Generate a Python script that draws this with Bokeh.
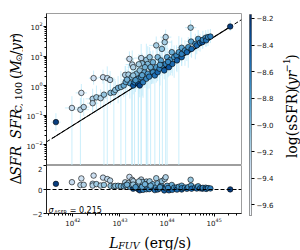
import os
import struct
import numpy as np
from bokeh.plotting import figure
from bokeh.layouts import row, column
from bokeh.models import (ColumnDataSource, LinearColorMapper, FixedTicker,
                          Range1d, CustomJSTickFormatter, Span)
from bokeh.core.properties import value
from bokeh.palettes import Blues256
from bokeh.transform import transform
from bokeh.embed import file_html
from bokeh.resources import INLINE

# ---------------- data ----------------
log_lfuv = [
    41.64, 41.98, 42.18, 42.16, 42.23, 42.44, 42.42, 42.42, 42.50, 42.59,
    42.66, 42.64, 42.73, 42.79, 42.80, 42.87, 42.90, 42.96, 43.02, 43.08,
    43.11, 43.18, 43.20, 43.26, 43.28, 43.45, 43.21, 43.25, 43.28, 43.31,
    43.39, 43.42, 43.35, 43.28, 43.39, 43.42, 43.45, 43.49, 43.52, 43.56,
    43.56, 43.47, 43.59, 43.59, 43.63, 43.67, 43.70, 43.70, 43.74, 43.77,
    43.77, 43.80, 43.80, 43.84, 43.87, 43.89, 43.90, 43.94, 43.95, 43.97,
    43.97, 44.00, 44.04, 44.07, 44.10, 44.11, 44.15, 44.20, 44.21, 44.25,
    44.31, 44.31, 44.31, 44.38, 44.42, 44.45, 44.50, 44.51, 44.52, 44.60,
    44.63, 44.66, 44.70, 44.75, 44.76, 44.82, 44.83, 44.87, 44.92, 45.34,
    43.12, 43.15, 43.33, 43.47, 43.62, 43.65, 43.85, 44.02, 43.53, 43.40,
]
log_sfr = [
    -1.24, -0.76, -0.25, -0.82, -0.73, 0.25, -0.45, -0.60, -0.40, -0.43,
    -0.31, 0.28, 0.25, 0.19, -0.25, -0.23, -0.15, -0.08, -0.05, 0.00,
    0.36, 0.37, 0.90, 0.71, 0.62, 0.93, 0.08, 0.28, 0.00, 0.11,
    0.06, 0.00, 0.40, 0.34, 0.23, 0.51, 0.28, 0.11, 0.45, 0.23,
    0.87, 0.75, 0.73, 0.40, 0.96, 0.57, 0.79, 0.45, 0.34, 0.62,
    1.36, 0.96, 0.45, 0.57, 0.85, 1.24, 0.68, 0.51, 1.47, 1.64,
    0.73, 0.96, 0.62, 0.87, 1.13, 0.73, 0.96, 1.02, 0.85, 1.13,
    1.28, 0.96, 1.07, 1.19, 1.13, 1.30, 1.96, 1.49, 1.24, 1.41,
    1.36, 1.58, 1.45, 1.47, 1.55, 1.62, 1.53, 1.64, 1.66, 2.00,
    0.12, 0.20, 0.18, 0.35, 0.30, 0.62, 0.70, 0.80, 0.62, 0.72,
]
log_ssfr = [
    -8.25, -9.30, -9.38, -9.25, -9.22, -9.35, -9.18, -9.22, -9.12, -9.18,
    -9.08, -9.30, -9.25, -9.25, -9.05, -9.00, -9.05, -8.95, -9.00, -8.90,
    -9.20, -9.15, -9.30, -9.25, -9.20, -9.25, -8.80, -9.00, -8.40, -8.60,
    -8.35, -8.30, -9.00, -9.08, -8.80, -9.05, -8.75, -8.60, -8.90, -8.70,
    -9.08, -9.02, -9.00, -8.78, -9.08, -8.88, -8.95, -8.70, -8.55, -8.80,
    -9.15, -9.00, -8.50, -8.65, -8.85, -9.05, -8.70, -8.45, -9.15, -9.20,
    -8.65, -8.85, -8.40, -8.75, -8.92, -8.52, -8.75, -8.70, -8.48, -8.80,
    -8.88, -8.48, -8.62, -8.72, -8.50, -8.75, -9.10, -8.85, -8.50, -8.72,
    -8.50, -8.80, -8.58, -8.40, -8.68, -8.72, -8.55, -8.68, -8.62, -8.25,
    -8.88, -8.95, -8.78, -8.85, -8.62, -8.92, -8.80, -8.68, -8.95, -9.15,
]
# relative SFR errors (lower >= 1 reaches zero), and L_FUV errors in dex
sfr_err_lo_frac = [
    0.5, 1.2, 0.6, 1.1, 0.5, 0.4, 0.6, 0.5, 0.7, 0.5,
    1.3, 0.4, 1.2, 0.5, 0.6, 1.1, 0.5, 0.7, 1.4, 0.6,
    0.5, 0.6, 0.5, 1.2, 0.6, 1.3, 0.7, 1.1, 0.5, 1.2,
    1.1, 0.6, 0.7, 0.5, 1.3, 0.6, 1.2, 0.7, 0.6, 1.1,
    1.2, 0.6, 1.3, 0.7, 0.6, 0.7, 0.8, 0.6, 1.2, 0.7,
    0.6, 0.8, 0.5, 1.1, 0.7, 0.8, 1.2, 0.5, 0.7, 0.6,
    1.3, 1.1, 0.5, 0.7, 0.8, 0.6, 0.8, 0.7, 0.6, 1.2,
    0.7, 0.5, 0.6, 0.7, 0.5, 0.8, 0.6, 0.7, 0.5, 0.7,
    0.5, 0.6, 0.5, 0.4, 0.5, 0.5, 0.4, 0.5, 0.4, 0.3,
    1.2, 0.7, 0.6, 0.8, 0.6, 1.1, 0.8, 0.7, 0.8, 0.9,
]
sfr_err_hi_frac = [
    1.0, 1.5, 1.0, 1.5, 1.0, 0.8, 1.2, 1.0, 1.5, 1.0,
    2.0, 0.8, 1.5, 1.0, 1.2, 2.0, 1.0, 1.5, 2.5, 1.2,
    1.0, 1.2, 0.8, 2.0, 1.0, 2.0, 1.5, 2.0, 1.0, 2.5,
    2.0, 1.2, 1.5, 1.0, 3.0, 1.2, 2.5, 1.5, 1.2, 3.0,
    2.5, 1.2, 3.0, 1.5, 1.2, 1.5, 1.5, 1.2, 2.5, 1.5,
    1.0, 1.5, 1.0, 3.0, 1.5, 1.5, 3.0, 1.0, 1.0, 0.8,
    3.0, 2.5, 1.0, 1.5, 1.5, 1.0, 1.5, 1.2, 1.0, 2.5,
    1.2, 1.0, 1.0, 1.2, 1.0, 1.2, 0.8, 1.2, 1.0, 1.2,
    1.0, 1.0, 1.0, 0.8, 1.0, 0.8, 0.8, 0.8, 0.8, 0.6,
    2.5, 1.2, 1.5, 1.5, 1.2, 2.5, 1.5, 1.2, 1.5, 1.2,
]
lfuv_err_dex = [
    0.10, 0.15, 0.12, 0.18, 0.12, 0.10, 0.15, 0.12, 0.10, 0.14,
    0.12, 0.10, 0.15, 0.12, 0.10, 0.12, 0.14, 0.10, 0.12, 0.15,
    0.10, 0.12, 0.10, 0.14, 0.12, 0.15, 0.10, 0.12, 0.08, 0.10,
    0.08, 0.10, 0.12, 0.14, 0.10, 0.12, 0.10, 0.08, 0.12, 0.10,
    0.14, 0.12, 0.10, 0.12, 0.15, 0.10, 0.12, 0.10, 0.08, 0.12,
    0.15, 0.12, 0.08, 0.10, 0.12, 0.14, 0.10, 0.08, 0.15, 0.12,
    0.10, 0.12, 0.08, 0.10, 0.12, 0.08, 0.10, 0.12, 0.08, 0.10,
    0.12, 0.08, 0.10, 0.10, 0.08, 0.10, 0.12, 0.10, 0.08, 0.10,
    0.08, 0.10, 0.08, 0.06, 0.08, 0.08, 0.06, 0.08, 0.06, 0.05,
    0.10, 0.12, 0.10, 0.12, 0.10, 0.12, 0.10, 0.10, 0.12, 0.14,
]

LOG_SFR_PER_LFUV = -43.35          # log10(SFR / L_FUV) of the reference relation
sigma_dsfr_text = "0.215"
x_lims = (10 ** 41.44, 10 ** 45.58)
y_lims = (10 ** -2.71, 10 ** 2.44)
dy_lims = (-2.0, 2.0)
x_ticks = [1e42, 1e43, 1e44, 1e45]
y_ticks = [1e-2, 1e-1, 1e0, 1e1, 1e2]
dy_ticks = [-2, 0, 2]
cbar_low, cbar_high = -9.68, -8.17
cbar_ticks = [-9.6, -9.4, -9.2, -9.0, -8.8, -8.6, -8.4, -8.2]

# ---------------- text measuring (reads advance widths from the font files) -------
_FONT_FILES = {
    ("DejaVu Serif", "normal"): "DejaVuSerif.ttf",
    ("DejaVu Serif", "italic"): "DejaVuSerif-Italic.ttf",
    ("DejaVu Sans", "normal"): "DejaVuSans.ttf",
    ("DejaVu Sans", "italic"): "DejaVuSans-Oblique.ttf",
}
_file_index = None


def _find_font(name):
    global _file_index
    if _file_index is None:
        _file_index = {}
        for root in ("/usr/share/fonts", "/usr/local/share/fonts",
                     os.path.expanduser("~/.fonts"), os.path.expanduser("~/.local/share/fonts")):
            for dp, _, fns in os.walk(root):
                for fn in fns:
                    _file_index.setdefault(fn, os.path.join(dp, fn))
    return _file_index.get(name)


class _TTF:
    def __init__(self, path):
        d = open(path, "rb").read()
        n = struct.unpack(">H", d[4:6])[0]
        t = {}
        for i in range(n):
            tag, _, off, ln = struct.unpack(">4sIII", d[12 + 16 * i: 28 + 16 * i])
            t[tag.decode("latin1")] = off
        self.upem = struct.unpack(">H", d[t["head"] + 18: t["head"] + 20])[0]
        nhm = struct.unpack(">H", d[t["hhea"] + 34: t["hhea"] + 36])[0]
        o = t["hmtx"]
        self.adv = [struct.unpack(">H", d[o + 4 * i: o + 4 * i + 2])[0] for i in range(nhm)]
        o = t["cmap"]
        nsub = struct.unpack(">H", d[o + 2: o + 4])[0]
        sub = None
        for i in range(nsub):
            pid, eid, so = struct.unpack(">HHI", d[o + 4 + 8 * i: o + 12 + 8 * i])
            if struct.unpack(">H", d[o + so: o + so + 2])[0] == 4 and pid in (0, 3):
                sub = o + so
                break
        segx2 = struct.unpack(">H", d[sub + 6: sub + 8])[0]
        seg = segx2 // 2
        self.ends = struct.unpack(f">{seg}H", d[sub + 14: sub + 14 + segx2])
        self.starts = struct.unpack(f">{seg}H", d[sub + 16 + segx2: sub + 16 + 2 * segx2])
        self.deltas = struct.unpack(f">{seg}h", d[sub + 16 + 2 * segx2: sub + 16 + 3 * segx2])
        self.ro_off = sub + 16 + 3 * segx2
        self.ros = struct.unpack(f">{seg}H", d[self.ro_off: self.ro_off + segx2])
        self.d = d

    def gid(self, ch):
        c = ord(ch)
        for i, e in enumerate(self.ends):
            if e >= c:
                if self.starts[i] > c:
                    return 0
                if self.ros[i] == 0:
                    return (c + self.deltas[i]) & 0xFFFF
                a = self.ro_off + 2 * i + self.ros[i] + 2 * (c - self.starts[i])
                g = struct.unpack(">H", self.d[a: a + 2])[0]
                return (g + self.deltas[i]) & 0xFFFF if g else 0
        return 0

    def width(self, s, size):
        return sum(self.adv[min(self.gid(ch), len(self.adv) - 1)] for ch in s) * size / self.upem


_fonts = {}


def text_width(text, size, font, style):
    key = (font, style)
    if key not in _fonts:
        try:
            p = _find_font(_FONT_FILES.get(key, ""))
            _fonts[key] = _TTF(p) if p else None
        except Exception:
            _fonts[key] = None
    f = _fonts[key]
    w = 0.62 * size * len(text) if f is None else f.width(text, size)
    return w * 1.03 + 0.4 * len(text)      # allowance for hinting at small sizes


SERIF, SANS = "DejaVu Serif", "DejaVu Sans"
PI2 = np.pi / 2


def compose(fig, pieces, cx, cy, rotated=False, centered=True, to_xy=None):
    """pieces: (text, size, style, font, perpendicular shift (+ = down), gap before)."""
    widths = [text_width(t, sz, fn, st) for (t, sz, st, fn, sh, gap) in pieces]
    total = sum(w + p[5] for w, p in zip(widths, pieces))
    s = -total / 2 if centered else 0.0
    for w, (t, sz, st, fn, sh, gap) in zip(widths, pieces):
        s += gap
        x, y = (cx + sh, cy + s) if rotated else (cx + s, cy - sh)
        if to_xy is not None:
            x, y = to_xy(x, y)
        fig.text(x=[x], y=[y], text=[t], angle=PI2 if rotated else 0.0,
                 text_font=value(fn), text_font_size=value(f"{sz}px"),
                 text_font_style=st, text_align="left", text_baseline="alphabetic",
                 text_color="black")
        s += w


# ---------------- derived columns ----------------
lx = np.array(log_lfuv)
ly = np.array(log_sfr)
lo = np.array(sfr_err_lo_frac)
hi = np.array(sfr_err_hi_frac)
xe = np.array(lfuv_err_dex)
sfr = 10 ** ly
src = ColumnDataSource(dict(
    L=10 ** lx, sfr=sfr, ssfr=log_ssfr,
    dsfr=ly - (lx + LOG_SFR_PER_LFUV),
    y_lo=np.where(lo >= 1, 1e-6, sfr * np.clip(1 - lo, 1e-6, None)),
    y_hi=sfr * (1 + hi),
    x_lo=10 ** (lx - xe), x_hi=10 ** (lx + xe),
))


def lum(h):
    return int(h[1:3], 16) + int(h[3:5], 16) + int(h[5:7], 16)


pal = list(Blues256)
if lum(pal[0]) < lum(pal[-1]):
    pal = pal[::-1]
mapper = LinearColorMapper(palette=pal, low=cbar_low, high=cbar_high)


def log_minor(k0, k1):
    return [m * 10.0 ** k for k in range(k0, k1) for m in range(2, 10)]


def style_axis(ax, standoff=2):
    ax.axis_line_color = "black"
    ax.axis_line_width = 0.8
    ax.major_tick_line_color = "black"
    ax.minor_tick_line_color = "black"
    ax.major_tick_out = 3
    ax.major_tick_in = 0
    ax.minor_tick_out = 2
    ax.minor_tick_in = 0
    ax.major_label_text_font = "DejaVu Sans"
    ax.major_label_text_font_size = "7px"
    ax.major_label_text_color = "#111111"
    ax.major_label_standoff = standoff


def strip(w, h):
    f = figure(width=w, height=h, x_range=Range1d(0, w), y_range=Range1d(0, h),
               output_backend="svg", toolbar_location=None, min_border=0)
    f.axis.visible = False
    f.grid.visible = False
    f.outline_line_color = None
    return f


ERR_COLOR = "#c2ebfa"
H = 250
FRAME_W, BOT_H = 200, 50

# ---------------- top panel ----------------
top = figure(width=226, height=165, x_axis_type="log", y_axis_type="log",
             x_range=Range1d(*x_lims), y_range=Range1d(*y_lims),
             output_backend="svg", toolbar_location=None,
             min_border_left=18, min_border_right=8, min_border_top=13, min_border_bottom=0)
top.xaxis.visible = False
top.grid.visible = False
top.outline_line_color = "#9e9e9e"
top.outline_line_width = 1
top.yaxis.ticker = FixedTicker(ticks=y_ticks, minor_ticks=log_minor(-3, 3))
style_axis(top.yaxis[0], standoff=1)

top.segment(x0="L", y0="y_lo", x1="L", y1="y_hi", source=src,
            line_color=ERR_COLOR, line_width=1, line_alpha=0.85)
top.segment(x0="x_lo", y0="sfr", x1="x_hi", y1="sfr", source=src,
            line_color=ERR_COLOR, line_width=1, line_alpha=0.85)

xl = np.log10(np.array(x_lims))
top.line(x=list(10 ** xl), y=list(10 ** (xl + LOG_SFR_PER_LFUV)),
         line_color="black", line_width=1, line_dash="4 2")
xd = np.array([lx.min() - 0.08, lx.max() + 0.02])
top.line(x=list(10 ** xd), y=list(10 ** (xd + LOG_SFR_PER_LFUV)),
         line_color="black", line_width=1.1)

top.scatter("L", "sfr", source=src, size=5.5, fill_color=transform("ssfr", mapper),
            line_color="black", line_width=0.6)

# ---------------- bottom panel ----------------
bot = figure(width=226, height=63, x_axis_type="log",
             x_range=top.x_range, y_range=Range1d(*dy_lims),
             output_backend="svg", toolbar_location=None,
             min_border_left=18, min_border_right=8, min_border_top=0, min_border_bottom=13)
bot.grid.visible = False
bot.outline_line_color = "#9e9e9e"
bot.outline_line_width = 1
bot.xaxis.ticker = FixedTicker(ticks=x_ticks, minor_ticks=log_minor(41, 46))
bot.yaxis.ticker = FixedTicker(ticks=dy_ticks, minor_ticks=[])
bot.yaxis.formatter = CustomJSTickFormatter(
    code="return (tick < 0 ? '\\u2212' : '') + Math.abs(tick).toFixed(0);")
style_axis(bot.xaxis[0], standoff=1)
style_axis(bot.yaxis[0], standoff=1)
bot.add_layout(Span(location=0, dimension="width", line_color="black",
                    line_width=1, line_dash="4 2"))
bot.scatter("L", "dsfr", source=src, size=5.5, fill_color=transform("ssfr", mapper),
            line_color="black", line_width=0.6)

_ppd = FRAME_W / (xl[1] - xl[0])          # pixels per decade of the x axis


def bot_xy(px, py):
    return (x_lims[0] * 10 ** (px / _ppd),
            dy_lims[0] + py * (dy_lims[1] - dy_lims[0]) / BOT_H)


compose(bot, [("\u03c3", 8, "italic", SANS, 0, 0),
              ("\u0394SFR", 5, "normal", SANS, 1.5, 0.2),
              ("= " + sigma_dsfr_text, 8, "normal", SANS, 0, 1.0)],
        2, 3, centered=False, to_xy=bot_xy)

# ---------------- x-axis label strip (page y 228..250, x 23..249) ----------------
xstrip = strip(226, 22)
compose(xstrip, [("L", 14, "italic", SERIF, 0, 0),
                 ("FUV", 9.5, "italic", SERIF, 2.5, 0.5),
                 ("(erg/s)", 14, "normal", SERIF, 0, 7)],
        141.5 - 23, 8)

# ---------------- y-axis label strip (page x 0..23) ----------------
ystrip = strip(23, H)
compose(ystrip, [("SFR", 14, "italic", SERIF, 0, 0),
                 ("C", 9.5, "italic", SERIF, 2.8, 0.5),
                 (", 100", 9.5, "normal", SERIF, 2.8, 0),
                 ("(", 14, "normal", SERIF, 0, 7),
                 ("M", 14, "italic", SERIF, 0, 0),
                 ("\u2299", 8.5, "normal", SANS, 2.8, 0.3),
                 ("/", 14, "normal", SERIF, 0, 0.3),
                 ("yr", 14, "italic", SERIF, 0, 0),
                 (")", 14, "normal", SERIF, 0, 0)],
        15.5, H - 89, rotated=True)
compose(ystrip, [("\u0394", 14, "normal", SERIF, 0, 0),
                 ("SFR", 14, "italic", SERIF, 0, 0)],
        15.5, H - 190, rotated=True)

# ---------------- colour bar (page x 249..276) ----------------
cb = figure(width=27, height=H, x_range=Range1d(0, 1),
            y_range=Range1d(cbar_low, cbar_high), y_axis_location="right",
            output_backend="svg", toolbar_location=None,
            min_border_left=0, min_border_right=21, min_border_top=14, min_border_bottom=35)
cb.xaxis.visible = False
cb.grid.visible = False
cb.outline_line_color = "#555555"
cb.outline_line_width = 0.8
grad = np.linspace(cbar_low, cbar_high, 256).reshape(256, 1)
cb.image(image=[grad], x=0, y=cbar_low, dw=1, dh=cbar_high - cbar_low,
         color_mapper=mapper)
cb.yaxis.ticker = FixedTicker(ticks=cbar_ticks, minor_ticks=[])
cb.yaxis.formatter = CustomJSTickFormatter(
    code="return (tick < 0 ? '\\u2212' : '') + Math.abs(tick).toFixed(1);")
style_axis(cb.yaxis[0])
cb.yaxis.axis_line_color = None

# ---------------- colour-bar label strip (page x 276..300) ----------------
cstrip = strip(24, H)
compose(cstrip, [("log(sSFR)", 14, "normal", SERIF, 0, 0),
                 ("(", 14, "normal", SERIF, 0, 9),
                 ("yr", 14, "italic", SERIF, 0, 0),
                 ("\u22121", 9.5, "normal", SERIF, -5, 0.3),
                 (")", 14, "normal", SERIF, 0, 0.3)],
        15, H - 114.5, rotated=True)

layout = row(ystrip, column(top, bot, xstrip), cb, cstrip)
open("out.html", "w").write(file_html(layout, INLINE))
